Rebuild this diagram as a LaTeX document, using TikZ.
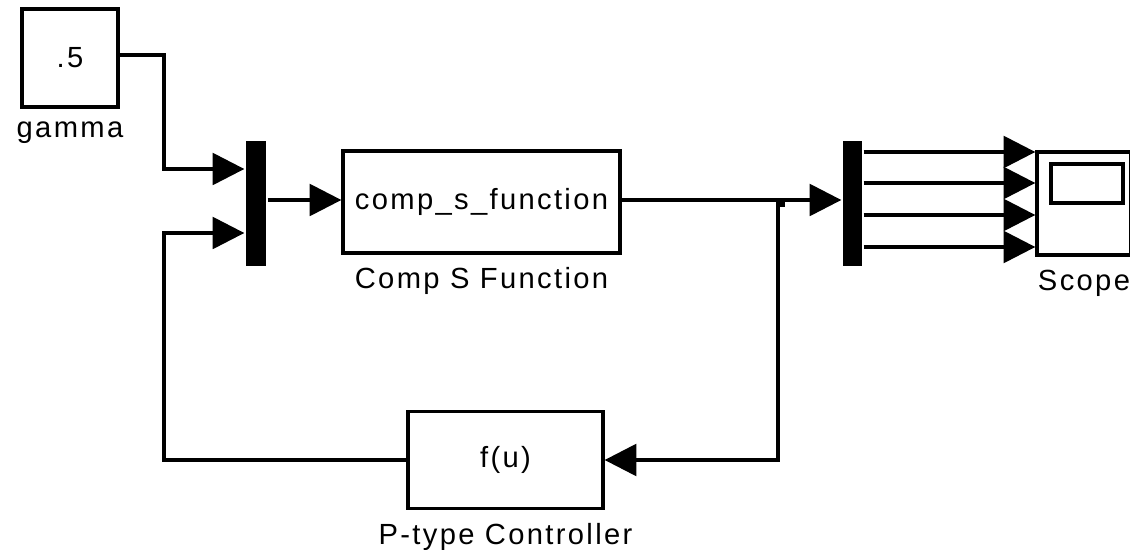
\documentclass[tikz,border=0pt]{standalone}
\usepackage{fontspec}
\setmainfont{Liberation Sans}[LetterSpace=8]
\usetikzlibrary{arrows.meta}

\begin{document}
\begin{tikzpicture}[x = 0.02cm, y = -0.02cm, line width = 1.9pt,
		font = \fontsize{16.6}{20}\selectfont, label distance = 0.11cm,
		block/.style = {draw, fill = white, inner sep = 0pt},
		bar/.style = {draw = none, fill = black, minimum width = 0.4cm, minimum height = 2.5cm, inner sep = 0pt},
		sig/.style = {-{Triangle[length = 18pt, width = 18pt]}}]

		\clip (0,0) rectangle (1130,550);

		\node [block, minimum width = 1.92cm, minimum height = 1.96cm, label = below:gamma] (gamma) at (70,58) {.5};
		\node [bar] (mux1) at (256,203.5) {};
		\node [block, minimum width = 5.54cm, minimum height = 2.04cm, label = below:Comp S Function] (comp) at (481.5,202) {comp\_s\_function};
		\node [block, minimum width = 3.9cm, minimum height = 1.94cm, label = below:P-type Controller] (ctrl) at (505.5,460) {f(u)};
		\node [bar, minimum width = 0.38cm] (mux2) at (852.5,203.5) {};
		\node [block, minimum width = 1.88cm, minimum height = 2.06cm, label = below:Scope] (scope) at (1084,203.5) {};
		\node [block, minimum width = 1.44cm, minimum height = 0.78cm] (screen) at (1087,183.5) {};
		\coordinate (split) at (778,200);

		\draw [sig] (gamma.east |- 0,55) -- (164,55) |- (mux1.west |- 0,169);
		\draw [sig] (ctrl.west) -| (164,233) -- (mux1.west |- 0,233);
		\draw [sig] (mux1.east |- 0,200) -- (comp.west |- 0,200);
		\draw [sig] (comp.east |- 0,200) -- (mux2.west |- 0,200);
		\draw [sig] (split) |- (ctrl.east);
		\fill (split) ++(-2,-1) rectangle ++(9,8);
		\foreach \y in {152,183,215,247}
			\draw [sig] (mux2.east |- 0,\y) -- (scope.west |- 0,\y);

\end{tikzpicture}
\end{document}
